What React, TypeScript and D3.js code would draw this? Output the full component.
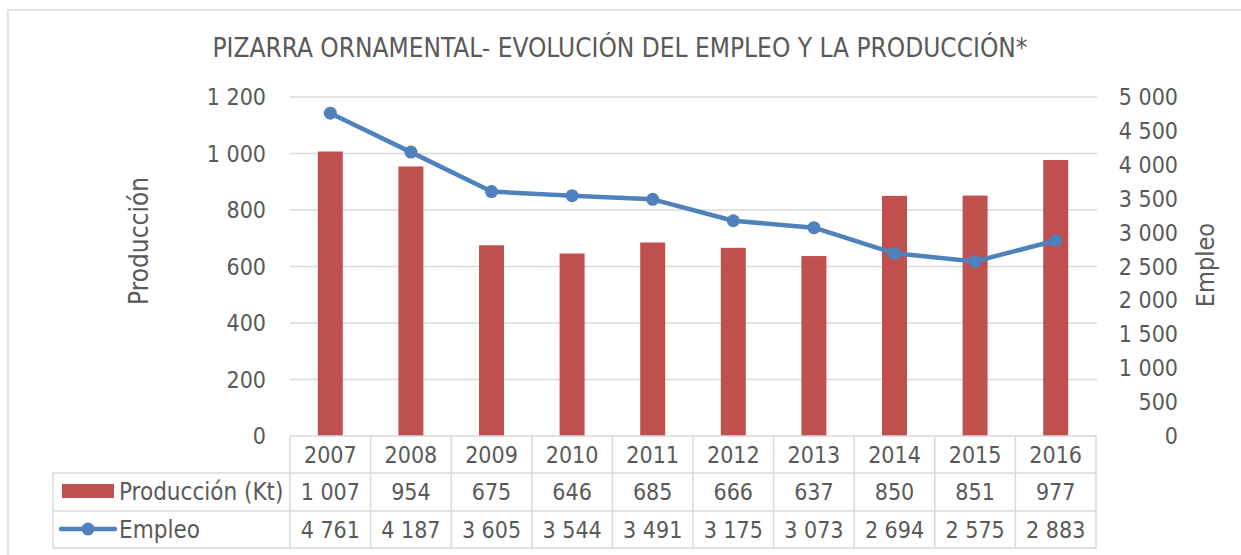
import * as d3 from 'd3';
import React, { useRef, useEffect } from 'react';

// --------------------------------------------------------
// data
// --------------------------------------------------------
const years = ['2007', '2008', '2009', '2010', '2011', '2012', '2013', '2014', '2015', '2016'];
const produccion = [1007, 954, 675, 646, 685, 666, 637, 850, 851, 977];
const empleo = [4761, 4187, 3605, 3544, 3491, 3175, 3073, 2694, 2575, 2883];
const leftTicks = [0, 200, 400, 600, 800, 1000, 1200];
const rightTicks = [0, 500, 1000, 1500, 2000, 2500, 3000, 3500, 4000, 4500, 5000];

const W = 1241;
const H = 555;
const FONT = '"DejaVu Sans Condensed", "DejaVu Sans", sans-serif';
const TEXT = '#595959';
const GRID = '#D9D9D9';
const RED = '#C0504D';
const BLUE = '#4F81BD';
const NUM_SIZE = 23;

// spaces as thousands separator, like the spanish excel output
const fmt = (v: number) => d3.format(',')(v).replace(/,/g, ' ');

function App() {
  const svgRef = useRef<SVGSVGElement>(null);

  useEffect(() => {
    const svg = d3.select(svgRef.current);
    svg.selectAll('*').remove();

    // scales
    const x = d3.scaleBand().domain(years).range([290, 1096]).padding(0);
    const yL = d3.scaleLinear().domain([0, 1200]).range([436, 97]);
    const yR = d3.scaleLinear().domain([0, 5000]).range([436, 97]);
    const barW = x.bandwidth() * 0.31;

    // outer chart border
    svg.append('rect')
      .attr('x', 8).attr('y', 10)
      .attr('width', W).attr('height', H)
      .attr('fill', 'none').attr('stroke', GRID).attr('stroke-width', 1.5);

    // title
    svg.append('text')
      .attr('x', 620).attr('y', 57)
      .attr('text-anchor', 'middle')
      .attr('font-size', 26)
      .attr('fill', TEXT)
      .text('PIZARRA ORNAMENTAL- EVOLUCIÓN DEL EMPLEO Y LA PRODUCCIÓN*');

    // gridlines
    svg.append('g').selectAll('line')
      .data(leftTicks.filter(d => d > 0))
      .join('line')
      .attr('x1', 290).attr('x2', 1097)
      .attr('y1', d => yL(d)).attr('y2', d => yL(d))
      .attr('stroke', GRID).attr('stroke-width', 1.5);

    // left axis labels
    svg.append('g').selectAll('text')
      .data(leftTicks)
      .join('text')
      .attr('x', 266).attr('y', d => yL(d) + 8)
      .attr('text-anchor', 'end')
      .attr('font-size', NUM_SIZE)
      .attr('fill', TEXT)
      .text(d => fmt(d));

    // right axis labels
    svg.append('g').selectAll('text')
      .data(rightTicks)
      .join('text')
      .attr('x', 1178).attr('y', d => yR(d) + 8)
      .attr('text-anchor', 'end')
      .attr('font-size', NUM_SIZE)
      .attr('fill', TEXT)
      .text(d => fmt(d));

    // axis titles
    svg.append('text')
      .attr('transform', 'translate(148,241) rotate(-90)')
      .attr('text-anchor', 'middle')
      .attr('font-size', 26)
      .attr('fill', TEXT)
      .text('Producción');

    svg.append('text')
      .attr('transform', 'translate(1214,265) rotate(-90)')
      .attr('text-anchor', 'middle')
      .attr('font-size', 25)
      .attr('fill', TEXT)
      .text('Empleo');

    // bars
    svg.append('g').selectAll('rect')
      .data(produccion)
      .join('rect')
      .attr('x', (d, i) => x(years[i])! + (x.bandwidth() - barW) / 2)
      .attr('y', d => yL(d))
      .attr('width', barW)
      .attr('height', d => yL(0) - yL(d))
      .attr('fill', RED);

    // employment line
    const line = d3.line<number>()
      .x((d, i) => x(years[i])! + x.bandwidth() / 2)
      .y(d => yR(d));

    svg.append('path')
      .datum(empleo)
      .attr('d', line)
      .attr('fill', 'none')
      .attr('stroke', BLUE)
      .attr('stroke-width', 4.5)
      .attr('stroke-linejoin', 'round');

    svg.append('g').selectAll('circle')
      .data(empleo)
      .join('circle')
      .attr('cx', (d, i) => x(years[i])! + x.bandwidth() / 2)
      .attr('cy', d => yR(d))
      .attr('r', 6.5)
      .attr('fill', BLUE);

    // --------------------------------------------------------
    // data table under the plot
    // --------------------------------------------------------
    const rowTop = [436, 473, 511];
    const rowBottom = 548;
    const legendLeft = 53;
    const tbl = svg.append('g');

    // horizontal lines
    tbl.append('line')
      .attr('x1', 290).attr('x2', 1096).attr('y1', rowTop[0]).attr('y2', rowTop[0])
      .attr('stroke', GRID).attr('stroke-width', 1.5);
    [rowTop[1], rowTop[2], rowBottom].forEach(yy => {
      tbl.append('line')
        .attr('x1', legendLeft).attr('x2', 1096).attr('y1', yy).attr('y2', yy)
        .attr('stroke', GRID).attr('stroke-width', 1.5);
    });

    // vertical lines
    const bounds = years.map(yr => x(yr)!).concat([x.range()[1]]);
    bounds.forEach(bx => {
      tbl.append('line')
        .attr('x1', bx).attr('x2', bx).attr('y1', rowTop[0]).attr('y2', rowBottom)
        .attr('stroke', GRID).attr('stroke-width', 1.5);
    });
    tbl.append('line')
      .attr('x1', legendLeft).attr('x2', legendLeft).attr('y1', rowTop[1]).attr('y2', rowBottom)
      .attr('stroke', GRID).attr('stroke-width', 1.5);

    const cx = (i: number) => x(years[i])! + x.bandwidth() / 2;
    const rows = [
      { y: 463, vals: years },
      { y: 500, vals: produccion.map(fmt) },
      { y: 538, vals: empleo.map(fmt) },
    ];
    rows.forEach(r => {
      tbl.append('g').selectAll('text')
        .data(r.vals)
        .join('text')
        .attr('x', (d, i) => cx(i))
        .attr('y', r.y)
        .attr('text-anchor', 'middle')
        .attr('font-size', NUM_SIZE)
        .attr('fill', TEXT)
        .text(d => d);
    });

    // legend keys in the table
    tbl.append('rect')
      .attr('x', 62).attr('y', 484).attr('width', 52).attr('height', 14)
      .attr('fill', RED);
    tbl.append('text')
      .attr('x', 119).attr('y', 500)
      .attr('font-size', 24).attr('fill', TEXT)
      .text('Producción (Kt)');

    tbl.append('line')
      .attr('x1', 61).attr('x2', 115).attr('y1', 529).attr('y2', 529)
      .attr('stroke', BLUE).attr('stroke-width', 4.5).attr('stroke-linecap', 'round');
    tbl.append('circle')
      .attr('cx', 88).attr('cy', 529).attr('r', 6.5).attr('fill', BLUE);
    tbl.append('text')
      .attr('x', 119).attr('y', 538)
      .attr('font-size', 24).attr('fill', TEXT)
      .text('Empleo');
  });

  return (
    <div style={{ position: 'absolute', left: 0, top: 0 }}>
      <svg ref={svgRef} width={W} height={H} style={{ fontFamily: FONT, display: 'block' }} />
    </div>
  );
}

export default App;
